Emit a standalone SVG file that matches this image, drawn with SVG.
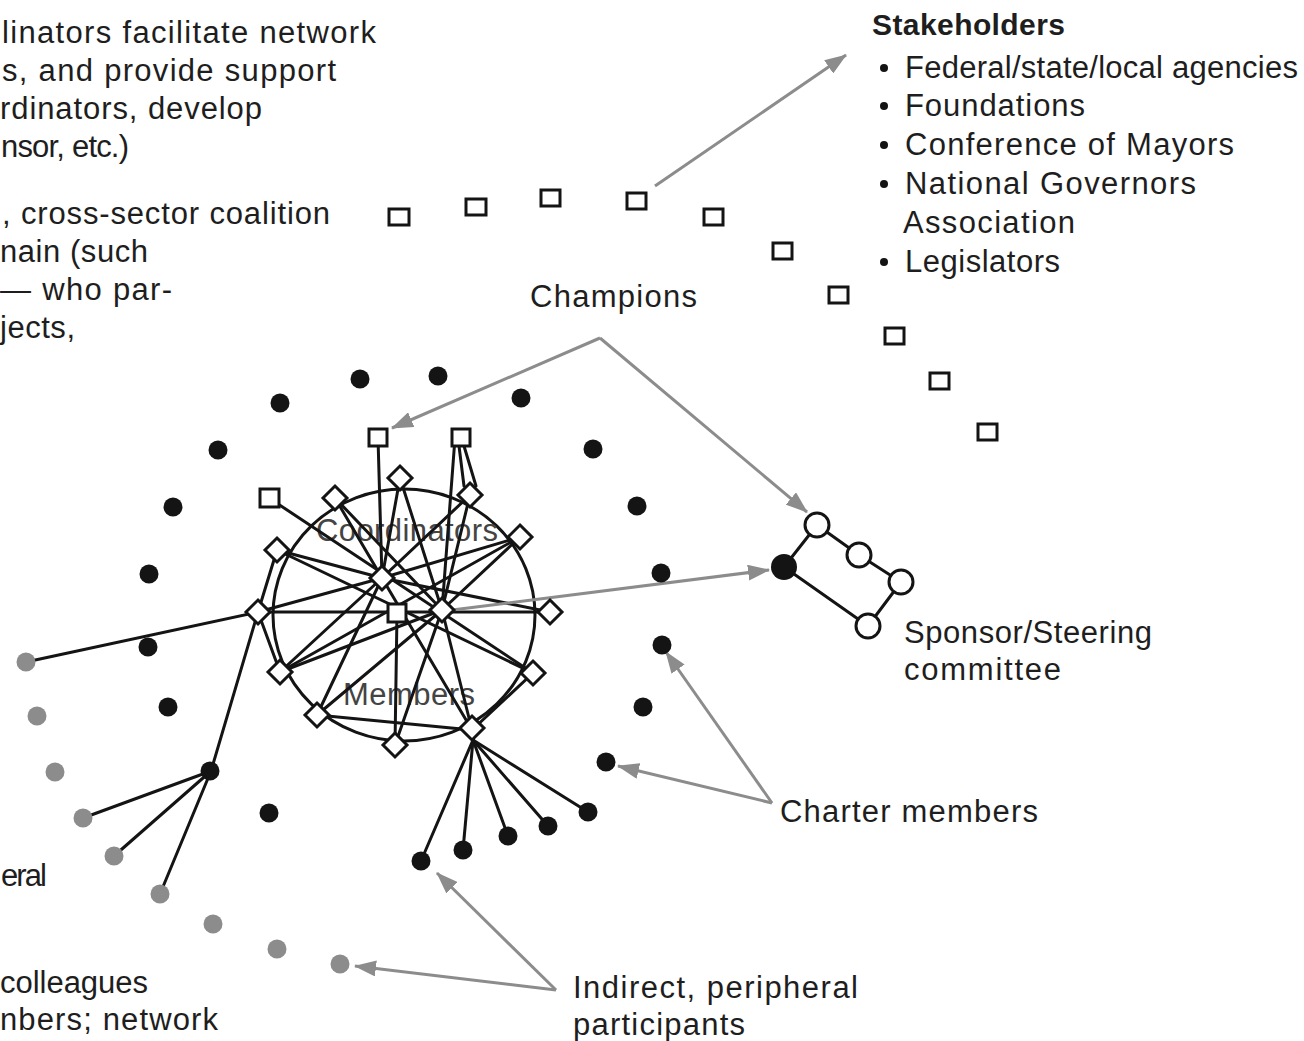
<svg xmlns="http://www.w3.org/2000/svg" width="1304" height="1041" viewBox="0 0 1304 1041">
<defs>
<style>
.ln{stroke:#141414;stroke-width:3;fill:none;stroke-linecap:round}
.ar{stroke:#8c8c8c;stroke-width:3;fill:none;marker-end:url(#ah)}
.dia,.sq,.wc{fill:#fff;stroke:#141414;stroke-width:3}
.bd{fill:#141414}
.gd{fill:#8c8c8c}
.t{font-family:"Liberation Sans",Arial,sans-serif;font-size:31px;fill:#1e1e1e}
.tb{font-family:"Liberation Sans",Arial,sans-serif;font-size:30px;font-weight:bold;fill:#1e1e1e}
.tc{font-family:"Liberation Sans",Arial,sans-serif;font-size:31px;fill:#444}
</style>
<marker id="ah" viewBox="0 0 22 16" refX="21" refY="8" markerWidth="22" markerHeight="16" markerUnits="userSpaceOnUse" orient="auto"><path d="M0,0 L22,8 L0,16 Z" fill="#8c8c8c"/></marker>
<path id="dm" d="M0,-12 L12,0 L0,12 L-12,0 Z"/>
</defs>
<rect width="1304" height="1041" fill="#fff"/>

<g id="circle"><ellipse cx="404" cy="615" rx="131" ry="126" class="ln"/></g>
<g id="circle-labels">
<text class="tc" x="316" y="541" textLength="182">Coordinators</text>
<text class="tc" x="343" y="705" textLength="132">Members</text>
</g>

<g id="connectors">
<line class="ln" x1="382" y1="578" x2="400" y2="478"/>
<line class="ln" x1="382" y1="578" x2="335" y2="498"/>
<line class="ln" x1="382" y1="578" x2="277" y2="550"/>
<line class="ln" x1="382" y1="578" x2="258" y2="612"/>
<line class="ln" x1="382" y1="578" x2="280" y2="672"/>
<line class="ln" x1="382" y1="578" x2="317" y2="715"/>
<line class="ln" x1="382" y1="578" x2="470" y2="495"/>
<line class="ln" x1="382" y1="578" x2="520" y2="537"/>
<line class="ln" x1="382" y1="578" x2="550" y2="612"/>
<line class="ln" x1="382" y1="578" x2="472" y2="730"/>
<line class="ln" x1="382" y1="578" x2="378" y2="438"/>
<line class="ln" x1="442" y1="610" x2="400" y2="478"/>
<line class="ln" x1="442" y1="610" x2="470" y2="495"/>
<line class="ln" x1="442" y1="610" x2="335" y2="498"/>
<line class="ln" x1="442" y1="610" x2="520" y2="537"/>
<line class="ln" x1="442" y1="610" x2="280" y2="672"/>
<line class="ln" x1="442" y1="610" x2="317" y2="715"/>
<line class="ln" x1="442" y1="610" x2="472" y2="730"/>
<line class="ln" x1="442" y1="610" x2="395" y2="745"/>
<line class="ln" x1="442" y1="610" x2="455" y2="438"/>
<line class="ln" x1="269" y1="498" x2="533" y2="673"/>
<line class="ln" x1="258" y1="612" x2="550" y2="612"/>
<line class="ln" x1="520" y1="537" x2="280" y2="672"/>
<line class="ln" x1="277" y1="550" x2="533" y2="673"/>
<line class="ln" x1="317" y1="715" x2="472" y2="730"/>
<line class="ln" x1="397" y1="613" x2="395" y2="745"/>
<line class="ln" x1="459" y1="446" x2="464" y2="486"/>
<line class="ln" x1="464" y1="446" x2="476" y2="486"/>
<line class="ln" x1="277" y1="550" x2="258" y2="612"/>
<line class="ln" x1="258" y1="612" x2="280" y2="672"/>
<line class="ln" x1="472" y1="730" x2="533" y2="673"/>
<line class="ln" x1="258" y1="612" x2="26" y2="662"/>
<line class="ln" x1="258" y1="612" x2="211" y2="771"/>
<line class="ln" x1="211" y1="771" x2="83" y2="818"/>
<line class="ln" x1="211" y1="771" x2="114" y2="856"/>
<line class="ln" x1="211" y1="771" x2="160" y2="894"/>
<line class="ln" x1="473" y1="740" x2="421" y2="861"/>
<line class="ln" x1="473" y1="740" x2="463" y2="850"/>
<line class="ln" x1="473" y1="740" x2="508" y2="836"/>
<line class="ln" x1="473" y1="740" x2="548" y2="826"/>
<line class="ln" x1="473" y1="740" x2="588" y2="812"/>
<line class="ln" x1="784" y1="567" x2="817" y2="525"/>
<line class="ln" x1="817" y1="525" x2="859" y2="555"/>
<line class="ln" x1="859" y1="555" x2="901" y2="582"/>
<line class="ln" x1="901" y1="582" x2="868" y2="626"/>
<line class="ln" x1="868" y1="626" x2="784" y2="567"/>
<path class="ar" d="M655,186 L846,55"/>
<path class="ar" d="M600,338 L392,428"/>
<path class="ar" d="M600,338 L807,512"/>
<path class="ar" d="M452,610 L769,570"/>
<path class="ar" d="M772,803 L666,652"/>
<path class="ar" d="M772,803 L618,766"/>
<path class="ar" d="M556,990 L437,873"/>
<path class="ar" d="M556,990 L355,966"/>
</g>

<g id="coordinators">
<g id="d1"><use href="#dm" x="400" y="478" class="dia"/></g>
<g id="d2"><use href="#dm" x="470" y="495" class="dia"/></g>
<g id="d3"><use href="#dm" x="335" y="498" class="dia"/></g>
<g id="d4"><use href="#dm" x="520" y="537" class="dia"/></g>
<g id="d5"><use href="#dm" x="277" y="550" class="dia"/></g>
<g id="d6"><use href="#dm" x="258" y="612" class="dia"/></g>
<g id="d7"><use href="#dm" x="550" y="612" class="dia"/></g>
<g id="d8"><use href="#dm" x="280" y="672" class="dia"/></g>
<g id="d9"><use href="#dm" x="533" y="673" class="dia"/></g>
<g id="d10"><use href="#dm" x="317" y="715" class="dia"/></g>
<g id="d11"><use href="#dm" x="395" y="745" class="dia"/></g>
<g id="d12"><use href="#dm" x="472" y="728" class="dia"/></g>
<g id="hubA"><use href="#dm" x="382" y="578" class="dia"/></g>
<g id="hubB"><use href="#dm" x="442" y="610" class="dia"/></g>
<g id="hubC"><rect class="sq" x="388" y="604" width="18" height="18"/></g>
<g id="champ1"><rect class="sq" x="369" y="429" width="18" height="17"/></g>
<g id="champ2"><rect class="sq" x="452" y="429" width="18" height="17"/></g>
<g id="champ3"><rect class="sq" x="260" y="489" width="19" height="18"/></g>
</g>

<g id="stakeholder-squares">
<g id="s1"><rect class="sq" x="389" y="209" width="20" height="16"/></g>
<g id="s2"><rect class="sq" x="466" y="199" width="20" height="16"/></g>
<g id="s3"><rect class="sq" x="541" y="190" width="19" height="16"/></g>
<g id="s4"><rect class="sq" x="627" y="193" width="19" height="16"/></g>
<g id="s5"><rect class="sq" x="704" y="209" width="19" height="16"/></g>
<g id="s6"><rect class="sq" x="773" y="243" width="19" height="16"/></g>
<g id="s7"><rect class="sq" x="829" y="287" width="19" height="16"/></g>
<g id="s8"><rect class="sq" x="885" y="328" width="19" height="16"/></g>
<g id="s9"><rect class="sq" x="930" y="373" width="19" height="16"/></g>
<g id="s10"><rect class="sq" x="978" y="424" width="19" height="16"/></g>
</g>

<g id="charter-members">
<g id="c1"><circle class="bd" cx="360" cy="379" r="9.5"/></g>
<g id="c2"><circle class="bd" cx="438" cy="376" r="9.5"/></g>
<g id="c3"><circle class="bd" cx="280" cy="403" r="9.5"/></g>
<g id="c4"><circle class="bd" cx="521" cy="398" r="9.5"/></g>
<g id="c5"><circle class="bd" cx="218" cy="450" r="9.5"/></g>
<g id="c6"><circle class="bd" cx="593" cy="449" r="9.5"/></g>
<g id="c7"><circle class="bd" cx="173" cy="507" r="9.5"/></g>
<g id="c8"><circle class="bd" cx="637" cy="506" r="9.5"/></g>
<g id="c9"><circle class="bd" cx="149" cy="574" r="9.5"/></g>
<g id="c10"><circle class="bd" cx="661" cy="573" r="9.5"/></g>
<g id="c11"><circle class="bd" cx="148" cy="647" r="9.5"/></g>
<g id="c12"><circle class="bd" cx="662" cy="645" r="9.5"/></g>
<g id="c13"><circle class="bd" cx="168" cy="707" r="9.5"/></g>
<g id="c14"><circle class="bd" cx="643" cy="707" r="9.5"/></g>
<g id="c15"><circle class="bd" cx="210" cy="771" r="9.5"/></g>
<g id="c16"><circle class="bd" cx="606" cy="762" r="9.5"/></g>
<g id="c17"><circle class="bd" cx="269" cy="813" r="9.5"/></g>
<g id="c18"><circle class="bd" cx="588" cy="812" r="9.5"/></g>
<g id="c19"><circle class="bd" cx="548" cy="826" r="9.5"/></g>
<g id="c20"><circle class="bd" cx="508" cy="836" r="9.5"/></g>
<g id="c21"><circle class="bd" cx="463" cy="850" r="9.5"/></g>
<g id="c22"><circle class="bd" cx="421" cy="861" r="9.5"/></g>
</g>

<g id="peripheral">
<g id="p1"><circle class="gd" cx="26" cy="662" r="9.5"/></g>
<g id="p2"><circle class="gd" cx="37" cy="716" r="9.5"/></g>
<g id="p3"><circle class="gd" cx="55" cy="772" r="9.5"/></g>
<g id="p4"><circle class="gd" cx="83" cy="818" r="9.5"/></g>
<g id="p5"><circle class="gd" cx="114" cy="856" r="9.5"/></g>
<g id="p6"><circle class="gd" cx="160" cy="894" r="9.5"/></g>
<g id="p7"><circle class="gd" cx="213" cy="924" r="9.5"/></g>
<g id="p8"><circle class="gd" cx="277" cy="949" r="9.5"/></g>
<g id="p9"><circle class="gd" cx="340" cy="964" r="9.5"/></g>
</g>

<g id="sponsor">
<g id="sp0"><circle class="bd" cx="784" cy="567" r="13"/></g>
<g id="sp1"><circle class="wc" cx="817" cy="525" r="12"/></g>
<g id="sp2"><circle class="wc" cx="859" cy="555" r="12"/></g>
<g id="sp3"><circle class="wc" cx="901" cy="582" r="12"/></g>
<g id="sp4"><circle class="wc" cx="868" cy="626" r="12"/></g>
</g>

<g id="left-text">
<text class="t" x="2" y="43" textLength="374">linators facilitate network</text>
<text class="t" x="2" y="81" textLength="334">s, and provide support</text>
<text class="t" x="0" y="119" textLength="262">rdinators, develop</text>
<text class="t" x="1" y="157" textLength="128">nsor, etc.)</text>
<text class="t" x="2" y="224" textLength="328">, cross-sector coalition</text>
<text class="t" x="0" y="262" textLength="148">nain (such</text>
<text class="t" x="0" y="300" textLength="172">— who par-</text>
<text class="t" x="0" y="338" textLength="75">jects,</text>
<text class="t" x="1" y="886" textLength="46">eral</text>
<text class="t" x="0" y="993" textLength="148">colleagues</text>
<text class="t" x="0" y="1030" textLength="218">nbers; network</text>
</g>

<g id="stakeholders">
<text class="tb" x="872" y="35" textLength="193">Stakeholders</text>
<circle class="bd" cx="884" cy="68" r="4"/>
<circle class="bd" cx="884" cy="106" r="4"/>
<circle class="bd" cx="884" cy="145" r="4"/>
<circle class="bd" cx="884" cy="184" r="4"/>
<circle class="bd" cx="884" cy="262" r="4"/>
<text class="t" x="905" y="78" textLength="393">Federal/state/local agencies</text>
<text class="t" x="905" y="116" textLength="180">Foundations</text>
<text class="t" x="905" y="155" textLength="329">Conference of Mayors</text>
<text class="t" x="905" y="194" textLength="291">National Governors</text>
<text class="t" x="903" y="233" textLength="172">Association</text>
<text class="t" x="905" y="272" textLength="155">Legislators</text>
</g>

<g id="labels">
<text class="t" x="530" y="307" textLength="167">Champions</text>
<text class="t" x="904" y="643" textLength="248">Sponsor/Steering</text>
<text class="t" x="904" y="680" textLength="157">committee</text>
<text class="t" x="780" y="822" textLength="258">Charter members</text>
<text class="t" x="573" y="998" textLength="285">Indirect, peripheral</text>
<text class="t" x="573" y="1035" textLength="172">participants</text>
</g>
</svg>
